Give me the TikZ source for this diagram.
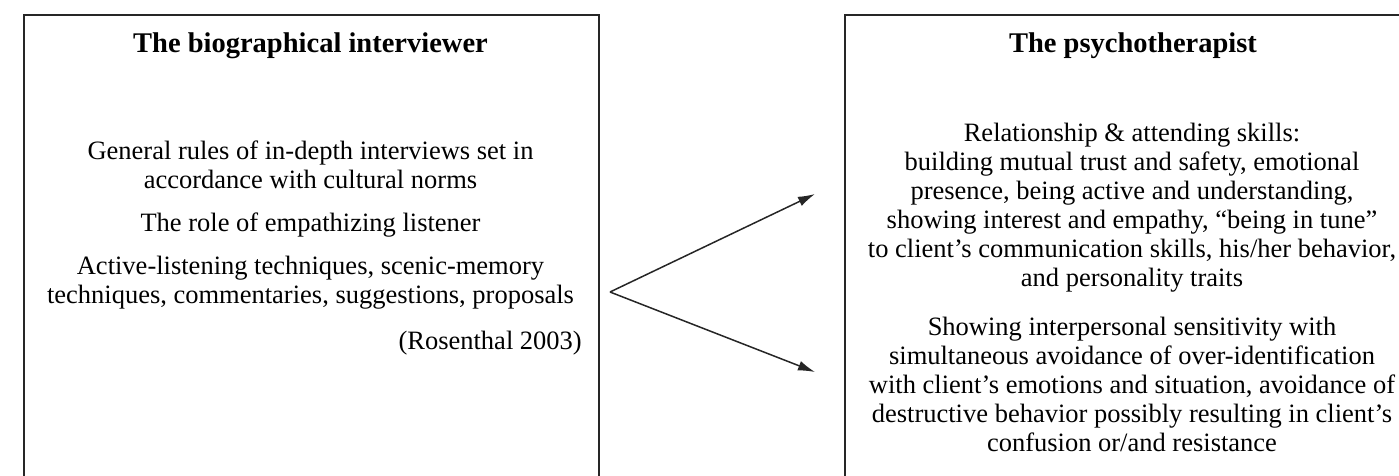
\documentclass[tikz,border=0pt]{standalone}
\usepackage{fontspec}
\setmainfont{Liberation Serif}
\usetikzlibrary{arrows.meta}
\begin{document}
\begin{tikzpicture}[x=1pt,y=-1pt,
  frame/.style={draw=black!85,line width=2pt,inner sep=0pt,anchor=north west},
  body/.style={font=\fontsize{26.5}{29}\selectfont,align=center,inner sep=0pt,anchor=base},
  head/.style={font=\fontsize{28.5}{31}\selectfont\bfseries,inner sep=0pt,anchor=base},
  arr/.style={line width=1.5pt,draw=black!85,-{Latex[length=17pt,width=10pt]}}]
\useasboundingbox (0,0) rectangle (1399,475);
\node[frame,minimum width=575pt,minimum height=530pt] (L) at (23,14) {};
\node[frame,minimum width=620pt,minimum height=530pt] (R) at (844,14) {};
\node[head] (lh) at (310.5,52) {The biographical interviewer};
\node[head] (rh) at (1133,52) {The psychotherapist};
\node[body] (l1) at (310.5,188) {General rules of in-depth interviews set in\\accordance with cultural norms};
\node[body] (l2) at (310.5,231) {The role of empathizing listener};
\node[body] (l3) at (310.5,303) {Active-listening techniques, scenic-memory\\techniques, commentaries, suggestions, proposals};
\node[body,anchor=base east] (l4) at (582,349) {(Rosenthal 2003)};
\node[body] (r1) at (1132,286) {Relationship \& attending skills:\\building mutual trust and safety, emotional\\presence, being active and understanding,\\showing interest and empathy, “being in tune”\\to client’s communication skills, his/her behavior,\\and personality traits};
\node[body] (r2) at (1132,451) {Showing interpersonal sensitivity with\\simultaneous avoidance of over-identification\\with client’s emotions and situation, avoidance of\\destructive behavior possibly resulting in client’s\\confusion or/and resistance};
\coordinate (apex) at (610,292);
\coordinate (t1) at (815,194);
\coordinate (t2) at (815,372);
\draw[arr] (apex) -- (t1);
\draw[arr] (apex) -- (t2);
\end{tikzpicture}
\end{document}
